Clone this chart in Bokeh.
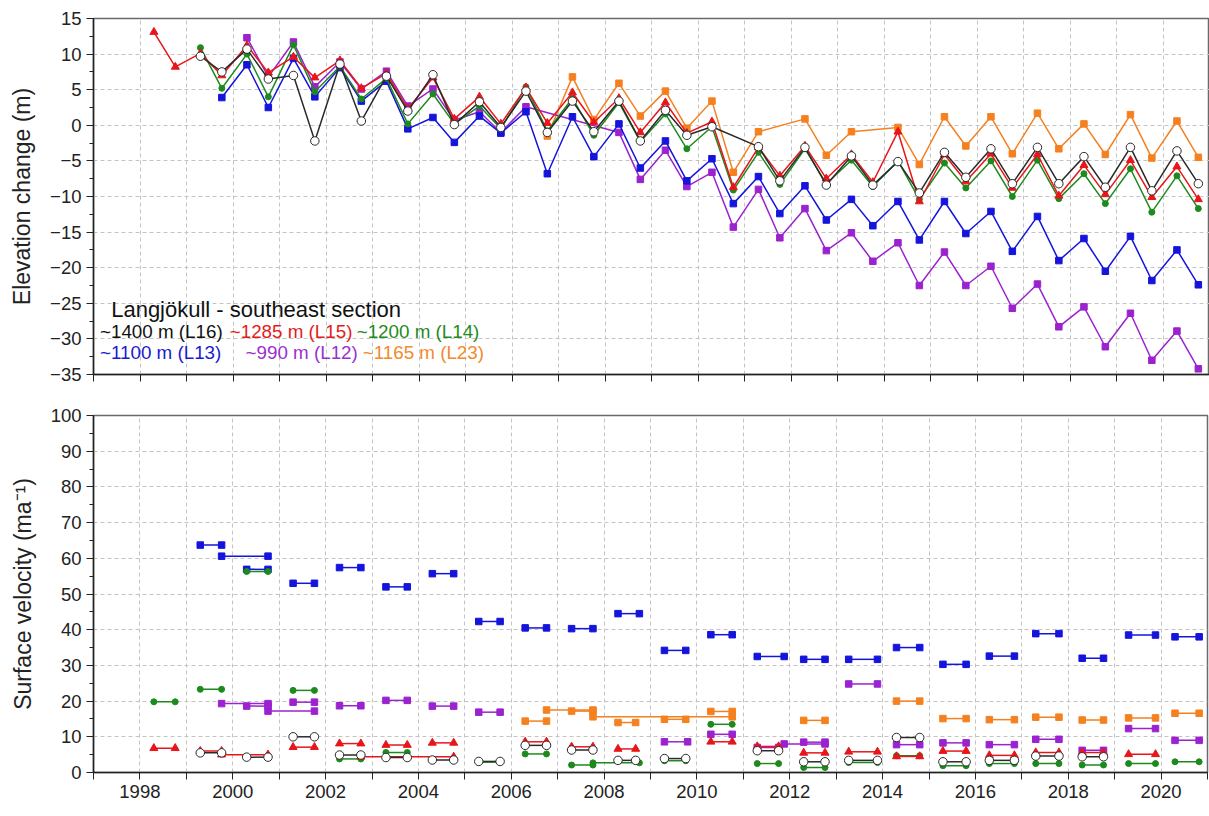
from bokeh.plotting import figure
from bokeh.layouts import column
from bokeh.models import FixedTicker, SingleIntervalTicker, Range1d, Label
from bokeh.embed import file_html
from bokeh.resources import INLINE

FONT = "Liberation Sans"

# ---------------------------------------------------------------------------
# Elevation change at the stakes, spring (~May) and autumn (~Oct) surveys
# ---------------------------------------------------------------------------
survey_years = list(range(1998, 2021))
SPRING, AUTUMN = 0.30, 0.76
survey_dates = [y + s for y in survey_years for s in (SPRING, AUTUMN)]

elev_l16 = [None, None, 9.7, 7.5, 10.7, 6.5, 7.0, -2.2, 8.6, 0.6, 6.9, 2.0, 7.1, 0.1,
            3.3, -0.3, 4.8, -1.0, 3.4, -0.9, 3.4, -2.2, 2.1, -1.4, -0.2, None,
            -3.0, -7.8, -3.1, -8.4, -4.3, -8.4, -5.1, -9.5, -3.8, -7.3, -3.3, -8.2,
            -3.1, -8.2, -4.4, -8.7, -3.1, -9.2, -3.6, -8.2]
elev_l15 = [13.1, 8.2, 10.1, 7.0, 11.2, 7.4, 9.6, 6.7, 9.1, 5.2, 7.3, 2.3, 6.7, 0.9,
            4.0, 0.2, 5.3, 0.3, 4.6, 0.4, 3.8, -1.0, 3.2, -1.1, 0.5, -8.7,
            -3.1, -7.1, -2.9, -7.5, -4.1, -8.0, -0.9, -10.7, -4.1, -7.9, -4.0, -8.8,
            -4.1, -9.9, -5.6, -9.7, -4.9, -10.1, -5.8, -10.4]
elev_l14 = [None, None, 10.9, 5.2, 10.0, 4.0, 11.3, 4.7, 8.3, 3.7, 6.6, 0.2, 4.4, 0.2,
            2.7, -0.5, 5.4, -0.8, 3.8, -1.4, 3.2, -2.3, 1.6, -3.3, -0.2, -9.1,
            -3.8, -8.3, -3.3, -8.2, -4.9, -8.6, -5.0, -10.4, -5.3, -8.8, -5.0, -10.0,
            -4.9, -10.3, -6.8, -11.0, -6.1, -12.2, -7.1, -11.7]
elev_l13 = [None, None, None, 3.9, 8.5, 2.5, 9.4, 4.0, 8.1, 3.4, 6.2, -0.5, 1.1, -2.4,
            1.3, -1.1, 1.9, -6.8, 1.2, -4.4, 0.2, -6.0, -2.2, -7.8, -4.7, -11.0,
            -7.2, -12.4, -8.5, -13.3, -10.4, -14.1, -10.7, -16.1, -10.7, -15.2, -12.1, -17.7,
            -12.8, -19.0, -15.9, -20.5, -15.6, -21.8, -17.5, -22.4]
elev_l12 = [None, None, None, None, 12.3, 6.8, 11.7, 5.4, 8.9, 5.1, 7.6, 2.7, 5.1, 0.7,
            1.9, -1.0, 2.6, None, None, None, -1.0, -7.6, -3.5, -8.6, -6.6, -14.3,
            -9.0, -15.8, -11.7, -17.6, -15.1, -19.1, -16.5, -22.5, -17.8, -22.5, -19.8, -25.7,
            -22.3, -28.3, -25.5, -31.1, -26.4, -33.0, -28.9, -34.2]
elev_l23 = [None, None, None, None, None, None, None, None, None, None, None, None, None, None,
            None, None, None, -1.5, 6.8, 0.8, 5.9, 1.3, 4.8, -0.4, 3.4, -6.6,
            -0.9, None, 0.9, -4.2, -0.9, None, -0.3, -5.5, 1.2, -2.9, 1.2, -4.0,
            1.7, -3.3, 0.2, -4.1, 1.5, -4.6, 0.6, -4.5]

# ---------------------------------------------------------------------------
# Surface velocity: mean over each interval between two surveys
# ---------------------------------------------------------------------------
vel_l13_t0 = [1999.30, 1999.76, 2000.30, 2001.30, 2002.30, 2003.30, 2004.30, 2005.30,
              2006.30, 2007.30, 2008.30, 2009.30, 2010.30, 2011.30, 2012.30, 2013.27,
              2014.30, 2015.30, 2016.30, 2017.30, 2018.30, 2019.30, 2020.30]
vel_l13_t1 = [1999.76, 2000.76, 2000.76, 2001.76, 2002.76, 2003.76, 2004.76, 2005.76,
              2006.76, 2007.76, 2008.76, 2009.76, 2010.76, 2011.88, 2012.76, 2013.89,
              2014.80, 2015.80, 2016.84, 2017.80, 2018.76, 2019.88, 2020.82]
vel_l13 = [63.7, 60.6, 56.9, 53.0, 57.4, 52.0, 55.7, 42.3, 40.5, 40.3, 44.5, 34.2,
           38.6, 32.5, 31.7, 31.7, 35.0, 30.3, 32.6, 38.9, 32.0, 38.5, 38.0]

vel_l12_t0 = [1999.76, 2000.30, 2000.76, 2001.30, 2002.30, 2003.30, 2004.30, 2005.30,
              2009.30, 2010.30, 2011.30, 2011.88, 2012.30, 2013.27, 2014.30, 2015.30,
              2016.30, 2017.30, 2018.30, 2019.30, 2020.30]
vel_l12_t1 = [2000.76, 2000.76, 2001.76, 2001.76, 2002.76, 2003.76, 2004.76, 2005.76,
              2009.80, 2010.76, 2011.76, 2012.76, 2012.76, 2013.89, 2014.80, 2015.80,
              2016.84, 2017.80, 2018.76, 2019.88, 2020.82]
vel_l12 = [19.3, 18.6, 17.2, 19.7, 18.7, 20.2, 18.6, 16.9, 8.6, 10.7, 7.0, 8.0, 8.5,
           24.8, 7.8, 8.3, 7.8, 9.3, 6.2, 12.3, 9.0]

vel_l23_t0 = [2006.30, 2006.76, 2007.30, 2007.76, 2008.30, 2009.30, 2010.30, 2012.30,
              2014.30, 2015.30, 2016.30, 2017.30, 2018.30, 2019.30, 2020.30]
vel_l23_t1 = [2006.76, 2007.76, 2007.76, 2010.76, 2008.68, 2009.76, 2010.76, 2012.76,
              2014.80, 2015.80, 2016.84, 2017.80, 2018.76, 2019.88, 2020.82]
vel_l23 = [14.4, 17.5, 17.2, 15.6, 14.0, 14.9, 17.1, 14.6, 20.0, 15.1, 14.8, 15.5,
           14.7, 15.3, 16.6]

vel_l15_t0 = [1998.30, 1999.30, 1999.76, 2001.30, 2002.30, 2002.76, 2003.30, 2004.30,
              2006.30, 2007.30, 2008.30, 2010.30, 2011.30, 2012.30, 2013.27, 2014.30,
              2015.30, 2016.30, 2017.30, 2018.30, 2019.30]
vel_l15_t1 = [1998.76, 1999.76, 2000.76, 2001.76, 2002.76, 2004.76, 2003.76, 2004.76,
              2006.76, 2007.76, 2008.68, 2010.76, 2011.76, 2012.76, 2013.89, 2014.80,
              2015.80, 2016.84, 2017.80, 2018.76, 2019.88]
vel_l15 = [6.8, 6.0, 5.0, 7.1, 8.1, 4.4, 7.7, 8.3, 8.6, 7.2, 6.6, 8.6, 7.3, 5.5, 5.8,
           4.5, 6.0, 4.8, 5.6, 5.6, 5.1]

vel_l14_t0 = [1998.30, 1999.30, 2000.30, 2001.30, 2002.30, 2003.30, 2005.30, 2006.30,
              2007.30, 2007.76, 2009.30, 2010.30, 2011.30, 2012.30, 2013.27, 2014.30,
              2015.30, 2016.30, 2017.30, 2018.30, 2019.30, 2020.30]
vel_l14_t1 = [1998.76, 1999.76, 2000.76, 2001.76, 2002.76, 2003.76, 2005.76, 2006.76,
              2007.76, 2008.76, 2009.76, 2010.76, 2011.76, 2012.76, 2013.89, 2014.80,
              2015.80, 2016.84, 2017.80, 2018.76, 2019.88, 2020.82]
vel_l14 = [19.8, 23.3, 56.3, 23.0, 3.8, 5.6, 2.9, 5.2, 2.1, 2.7, 3.3, 13.5, 2.5, 1.4,
           2.8, 4.7, 1.9, 2.5, 2.5, 2.1, 2.5, 3.0]

vel_l16_t0 = [1999.30, 2000.30, 2001.30, 2002.30, 2003.30, 2004.30, 2005.30, 2006.30,
              2007.30, 2008.30, 2009.30, 2011.30, 2012.30, 2013.27, 2014.30, 2015.30,
              2016.30, 2017.30, 2018.30]
vel_l16_t1 = [1999.76, 2000.76, 2001.76, 2002.76, 2003.76, 2004.76, 2005.76, 2006.76,
              2007.76, 2008.68, 2009.76, 2011.76, 2012.76, 2013.89, 2014.80, 2015.80,
              2016.84, 2017.80, 2018.76]
vel_l16 = [5.5, 4.3, 10.0, 4.9, 4.2, 3.5, 3.1, 7.6, 6.3, 3.4, 3.9, 6.1, 3.0, 3.4, 9.8,
           3.0, 3.4, 4.6, 4.4]

legend_title = "Langjökull - southeast section"
legend_rows = [
    [("~1400 m (L16)", "#111111"), ("~1285 m (L15)", "#e41b1b"), ("~1200 m (L14)", "#1e8c1e")],
    [("~1100 m (L13)", "#1a1ad2"), ("~990 m (L12)", "#9a2fd0"), ("~1165 m (L23)", "#f28a2c")],
]

# colour, marker, marker size, marker fill  (drawing order: back to front)
STYLE = {
    "L23": ("#f5801f", "square", 6.5, "#f5801f"),
    "L12": ("#9b22cf", "square", 6.5, "#9b22cf"),
    "L13": ("#1414dc", "square", 6.5, "#1414dc"),
    "L14": ("#1d8a1d", "circle", 6, "#1d8a1d"),
    "L15": ("#e8151b", "triangle", 8, "#e8151b"),
    "L16": ("#2a2a2a", "circle", 8.5, "white"),
}

X_RANGE = (1997, 2021)
year_ticks = list(range(1997, 2022))
GRID = dict(grid_line_color="#c4c4c4", grid_line_dash="4 3", grid_line_width=1)


def style_axes(p):
    for ax in (p.xaxis[0], p.yaxis[0]):
        ax.axis_line_color = "#222222"
        ax.axis_line_width = 1.5
        ax.major_tick_line_color = "#222222"
        ax.minor_tick_line_color = "#222222"
        ax.major_tick_out = 7
        ax.major_tick_in = 0
        ax.minor_tick_out = 4
        ax.minor_tick_in = 0
        ax.major_label_text_font = FONT
        ax.major_label_text_font_size = "18.5px"
        ax.major_label_text_color = "#222222"
        ax.axis_label_text_font = FONT
        ax.axis_label_text_font_size = "23px"
        ax.axis_label_text_font_style = "normal"
        ax.axis_label_text_color = "#222222"
    p.xaxis.ticker = FixedTicker(ticks=year_ticks, minor_ticks=[])
    for g in (p.xgrid[0], p.ygrid[0]):
        for k, v in GRID.items():
            setattr(g, k, v)
    p.outline_line_color = "#6a6a6a"
    p.outline_line_width = 1.5
    p.background_fill_color = "white"
    p.border_fill_color = "white"


# ---------------------------------------------------------------- top panel
top = figure(frame_width=1116, frame_height=356, output_backend="svg",
             toolbar_location=None, x_range=Range1d(*X_RANGE), y_range=Range1d(-35, 15),
             min_border_left=89, min_border_right=4, min_border_top=18,
             min_border_bottom=21)
style_axes(top)
top.yaxis.ticker = SingleIntervalTicker(interval=5, num_minor_ticks=2)
top.yaxis.axis_label = "Elevation change (m)"
top.yaxis.axis_label_standoff = 12
top.xaxis.major_label_overrides = {t: "" for t in year_ticks}
top.xaxis.major_label_text_font_size = "1px"
top.xaxis.major_label_standoff = 0

elev_series = {"L23": elev_l23, "L12": elev_l12, "L13": elev_l13,
               "L14": elev_l14, "L15": elev_l15, "L16": elev_l16}
for key, vals in elev_series.items():
    color, marker, size, fill = STYLE[key]
    xs = [t for t, v in zip(survey_dates, vals) if v is not None]
    ys = [v for v in vals if v is not None]
    top.line(xs, ys, line_color=color, line_width=1.5)
    top.scatter(xs, ys, marker=marker, size=size, fill_color=fill,
                line_color=color, line_width=1)

top.add_layout(Label(x=1997.38, y=-25.85, text=legend_title, text_font=FONT,
                     text_font_size="22px", text_color="#111111",
                     text_baseline="middle"))
row_y = [-29.0, -31.9]
row_x = [[1997.14, 1999.93, 2002.66], [1997.14, 2000.27, 2002.79]]
for r, items in enumerate(legend_rows):
    for c, (txt, col) in enumerate(items):
        top.add_layout(Label(x=row_x[r][c], y=row_y[r], text=txt, text_font=FONT,
                             text_font_size="18.8px", text_color=col,
                             text_baseline="middle"))

# ------------------------------------------------------------- bottom panel
bot = figure(frame_width=1114, frame_height=357, output_backend="svg",
             toolbar_location=None, x_range=Range1d(*X_RANGE), y_range=Range1d(0, 100),
             min_border_left=93, min_border_right=2, min_border_top=20,
             min_border_bottom=40)
style_axes(bot)
bot.yaxis.ticker = SingleIntervalTicker(interval=10, num_minor_ticks=2)
bot.yaxis.axis_label = "Surface velocity (ma\u207b\u00b9)"
bot.yaxis.axis_label_standoff = 12
bot.xaxis.major_label_overrides = {t: ("" if t % 2 else str(t)) for t in year_ticks}

vel_series = {
    "L23": (vel_l23_t0, vel_l23_t1, vel_l23),
    "L12": (vel_l12_t0, vel_l12_t1, vel_l12),
    "L13": (vel_l13_t0, vel_l13_t1, vel_l13),
    "L14": (vel_l14_t0, vel_l14_t1, vel_l14),
    "L15": (vel_l15_t0, vel_l15_t1, vel_l15),
    "L16": (vel_l16_t0, vel_l16_t1, vel_l16),
}
for key, (t0, t1, v) in vel_series.items():
    color, marker, size, fill = STYLE[key]
    bot.segment(t0, v, t1, v, line_color=color, line_width=1.5)
    bot.scatter(t0 + t1, v + v, marker=marker, size=size, fill_color=fill,
                line_color=color, line_width=1)

layout = column(top, bot, spacing=0)
open("out.html", "w").write(file_html(layout, INLINE))
